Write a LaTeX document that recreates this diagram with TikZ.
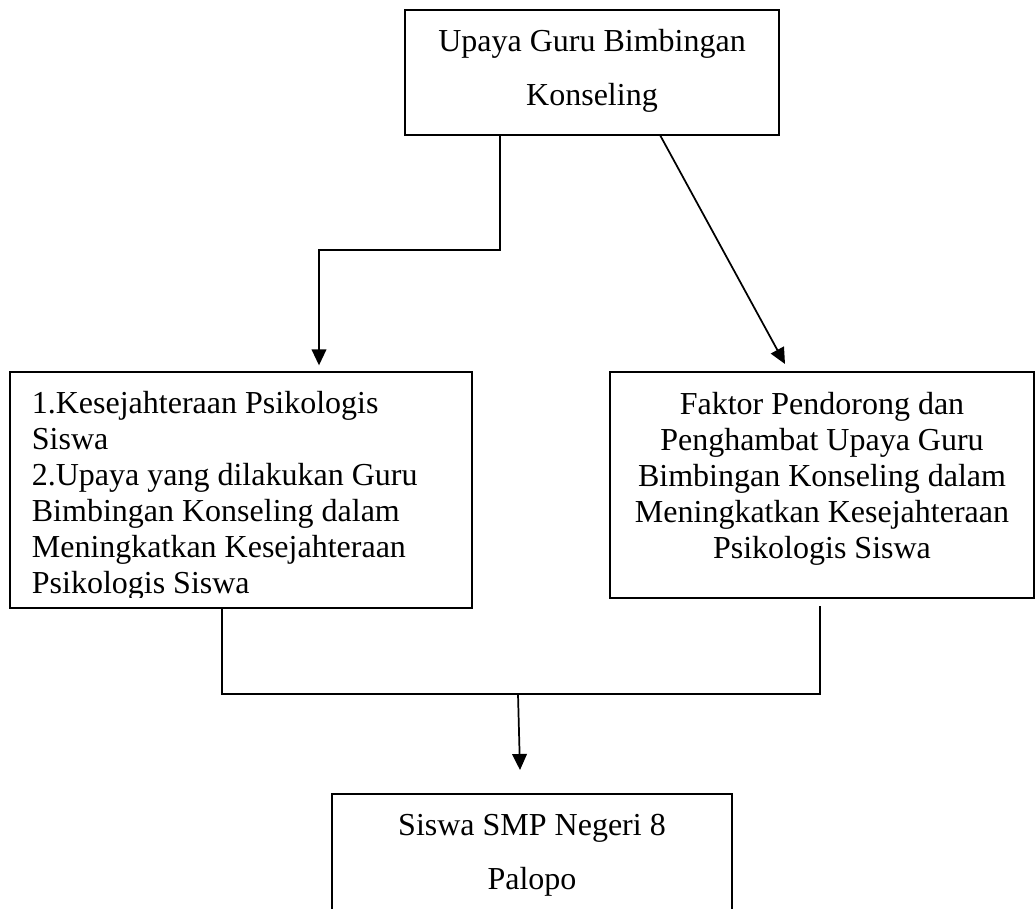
\documentclass[tikz,border=0pt]{standalone}
\usepackage{fontspec}
\setmainfont{Liberation Serif}
\usetikzlibrary{arrows.meta}
\begin{document}
\begin{tikzpicture}[x=0.75pt,y=-0.75pt, line width=1.3pt,
  box/.style={draw, rectangle, inner sep=0pt, outer sep=0pt, anchor=north west},
  txt/.style={inner sep=0pt, font=\fontsize{24}{27}\selectfont},
  wide/.style={inner sep=0pt, font=\fontsize{24}{41}\selectfont},
  arr/.style={-{Triangle[width=11pt,length=12pt]}},
]
\useasboundingbox (0,0) rectangle (1035,908);

% boxes
\node[box, minimum width=280.5pt, minimum height=93.75pt] (top) at (405,10) {};
\node[box, minimum width=346.5pt, minimum height=177pt] (left) at (10,372) {};
\node[box, minimum width=318pt, minimum height=169.5pt] (right) at (610,372) {};
\node[box, minimum width=300pt, minimum height=112.5pt] (bottom) at (332,794) {};

% texts
\node[wide, align=center, anchor=north] (toptext) at (592,28) {Upaya Guru Bimbingan\\Konseling};
\begin{scope}
\clip (0,0) rectangle (1035,597);
\node[txt, align=left, anchor=north west] (lefttext) at (31,390)
  {1.Kesejahteraan Psikologis\\Siswa\\2.Upaya yang dilakukan Guru\\Bimbingan Konseling dalam\\Meningkatkan Kesejahteraan\\Psikologis Siswa};
\end{scope}
\node[txt, align=center, anchor=north] (righttext) at (822,391)
  {Faktor Pendorong dan\\Penghambat Upaya Guru\\Bimbingan Konseling dalam\\Meningkatkan Kesejahteraan\\Psikologis Siswa};
\node[wide, align=center, anchor=north] (bottomtext) at (532,813) {Siswa SMP Negeri 8\\Palopo};

% connectors
\coordinate (xa) at (500,0);
\coordinate (xd) at (660,0);
\coordinate (j2) at (319,250);
\coordinate (tipR) at (785,364);
\draw[arr, shorten >=5pt] (top.south -| xa) |- (j2) -- (left.north -| j2);
\draw[arr] (top.south -| xd) -- (tipR);

\coordinate (bl) at (222,694);
\coordinate (br) at (820,694);
\coordinate (rs) at (820,606);
\draw (left.south -| bl) -- (bl) -- (br) -- (rs);
\coordinate (m1) at (518,694);
\coordinate (m2) at (520,770);
\draw[arr] (m1) -- (m2);
\end{tikzpicture}
\end{document}
